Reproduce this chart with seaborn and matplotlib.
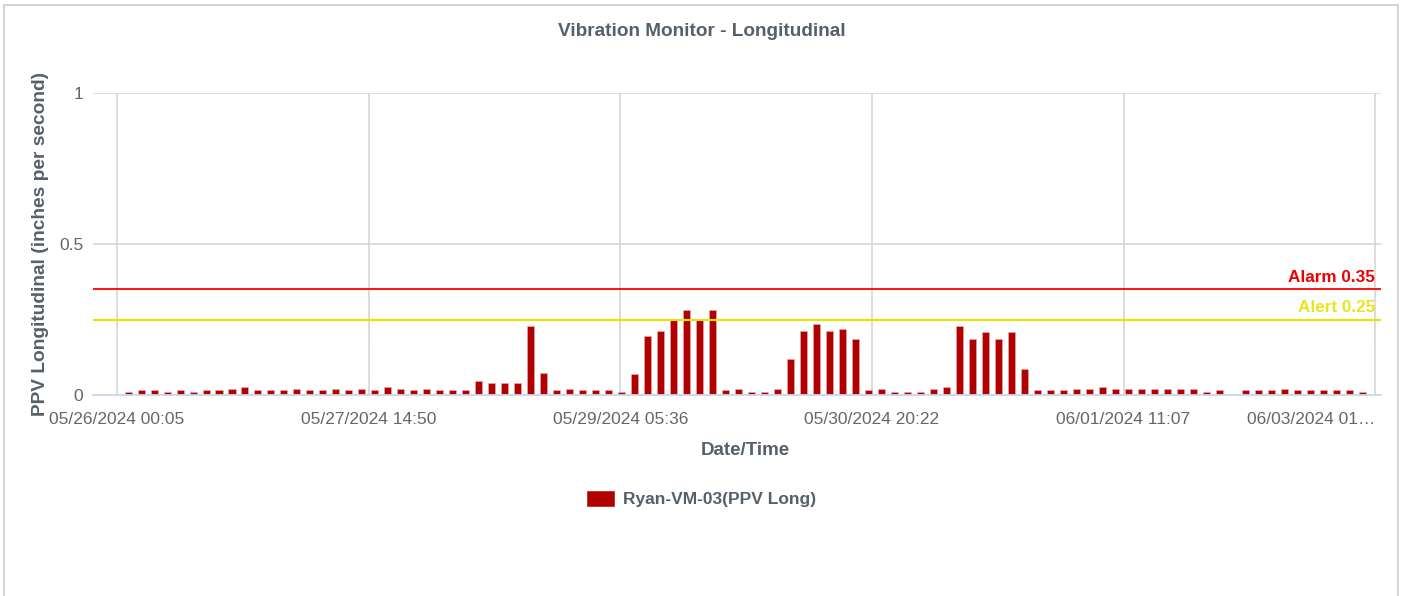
import numpy as np
import pandas as pd
import matplotlib.pyplot as plt
import seaborn as sns
from matplotlib.patches import Rectangle

# PPV readings, one bar every 2 hours (in/s)
ppv_long = [
    0.010, 0.015, 0.015, 0.010, 0.015, 0.010, 0.015, 0.015, 0.020, 0.025,
    0.015, 0.015, 0.015, 0.020, 0.015, 0.015, 0.020, 0.015, 0.020, 0.015,
    0.025, 0.020, 0.015, 0.020, 0.015, 0.015, 0.015, 0.046, 0.040, 0.040,
    0.040, 0.230, 0.074, 0.015, 0.020, 0.015, 0.015, 0.015, 0.010, 0.068,
    0.195, 0.213, 0.253, 0.280, 0.248, 0.280, 0.015, 0.020, 0.010, 0.010,
    0.020, 0.119, 0.212, 0.235, 0.212, 0.217, 0.184, 0.015, 0.020, 0.010,
    0.010, 0.010, 0.020, 0.027, 0.230, 0.184, 0.207, 0.184, 0.207, 0.086,
    0.015, 0.015, 0.015, 0.020, 0.020, 0.027, 0.020, 0.020, 0.020, 0.020,
    0.020, 0.020, 0.020, 0.010, 0.015, 0.000, 0.015, 0.015, 0.015, 0.020,
    0.015, 0.015, 0.015, 0.015, 0.015, 0.010,
]
tick_labels = ["05/26/2024 00:05", "05/27/2024 14:50", "05/29/2024 05:36",
               "05/30/2024 20:22", "06/01/2024 11:07", "06/03/2024 01\u2026"]
alarm_level = 0.35
alert_level = 0.25
series_name = "Ryan-VM-03(PPV Long)"

df = pd.DataFrame({"slot": np.arange(len(ppv_long)), "ppv": ppv_long})

sns.set_style("white")
plt.rcParams["font.family"] = ["Liberation Sans", "DejaVu Sans"]

text_col = "#56606a"
bar_col = "#b00000"

fig = plt.figure(figsize=(14.03, 5.96), dpi=100)
ax = fig.add_axes([93 / 1403, 1 - 395 / 596, (1381 - 93) / 1403, (395 - 93) / 596])

# outer frame of the chart container
fig.patches.append(Rectangle((4 / 1403, -0.05), 1394 / 1403, 1.05 - 5 / 596,
                             transform=fig.transFigure, fill=False,
                             edgecolor="#cccccc", linewidth=1.2))

sns.barplot(data=df, x="slot", y="ppv", color=bar_col, saturation=1,
            width=0.54, errorbar=None, edgecolor="#eab0b0", linewidth=0.4,
            label=series_name, ax=ax)
if ax.get_legend() is not None:
    ax.get_legend().remove()

ax.set_ylim(0, 1)
ax.set_xlim(-2.7, 96.45)
ax.set_yticks([0, 0.5, 1])
ax.set_yticklabels(["0", "0.5", "1"])
xt = np.linspace(-0.85, 96.0, 6)
ax.set_xticks(xt)
ax.set_xticklabels(tick_labels)
ax.get_xticklabels()[-1].set_ha("right")

for s in ["top", "right", "left"]:
    ax.spines[s].set_visible(False)
ax.spines["bottom"].set_color("#ccd6eb")
ax.spines["bottom"].set_linewidth(1.3)

for y in [0.5, 1]:
    ax.axhline(y, color="#d5dbe3", linewidth=1.3, zorder=0)
for x in xt:
    ax.axvline(x, color="#d9d9d9", linewidth=1.3, zorder=0)

ax.tick_params(axis="x", length=10, width=1.2, color="#ccd6eb",
               labelsize=12.5, labelcolor="#666666", pad=2)
ax.tick_params(axis="y", length=0, labelsize=12.5, labelcolor="#666666", pad=7)

ax.axhline(alarm_level, color="#ff0000", linewidth=1.3, zorder=3)
ax.axhline(alert_level, color="#e6e600", linewidth=1.5, zorder=3)
ax.text(xt[-1], alarm_level + 0.015, f"Alarm {alarm_level}", color="#ee0000",
        ha="right", va="bottom", fontsize=12.3, fontweight="bold")
ax.text(xt[-1], alert_level + 0.015, f"Alert {alert_level}", color="#e6e61a",
        ha="right", va="bottom", fontsize=12.3, fontweight="bold")

ax.set_xlabel("Date/Time", fontsize=13.5, fontweight="bold", color=text_col)
ax.xaxis.set_label_coords((745 - 93) / 1288, (395 - 442) / 302)
ax.set_ylabel("PPV Longitudinal (inches per second)", fontsize=13.8,
              fontweight="bold", color=text_col, labelpad=7.5)
fig.text(0.5, 1 - 31 / 596, "Vibration Monitor - Longitudinal", ha="center",
         va="center", fontsize=13.7, fontweight="bold", color=text_col)

fig.legend(loc="center", bbox_to_anchor=(0.5, 1 - 499 / 596), frameon=False,
           handlelength=1.6, handleheight=1.0, handletextpad=0.5,
           prop={"weight": "bold", "size": 12.5}, labelcolor=text_col)
fig.legends[0].legend_handles[0].set_edgecolor(bar_col)

fig.savefig("out.png", dpi=100)
